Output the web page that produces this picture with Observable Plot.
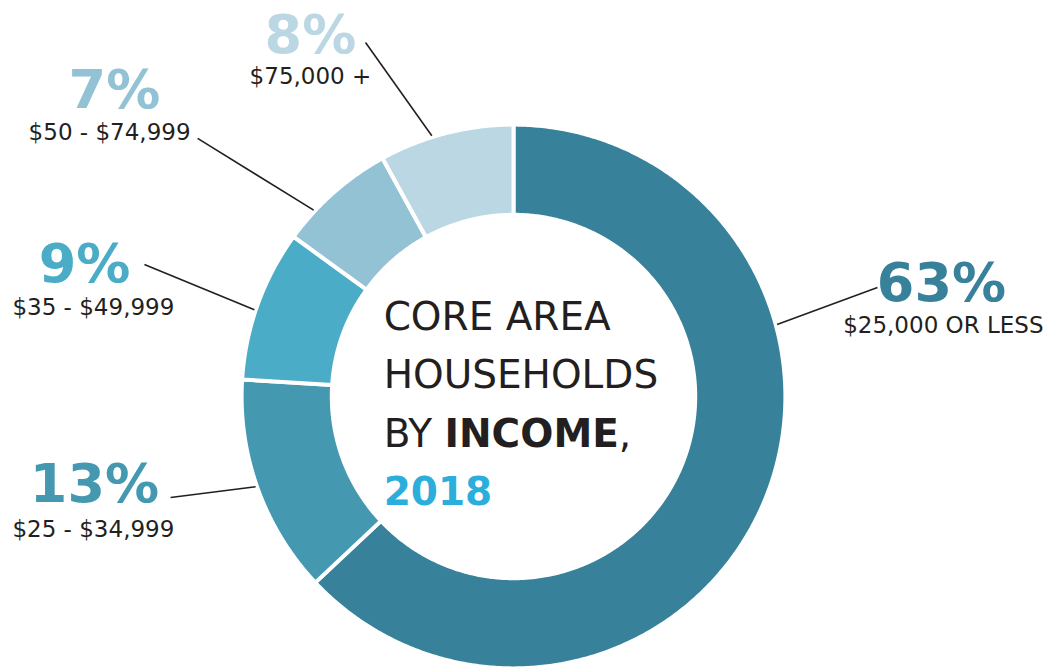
<!DOCTYPE html>
<html>
<head>
<meta charset="utf-8">
<script src="https://cdn.jsdelivr.net/npm/d3@7"></script>
<script src="https://cdn.jsdelivr.net/npm/@observablehq/plot@0.6"></script>
<style>
  html, body { margin: 0; padding: 0; background: #ffffff; }
  svg { display: block; }
</style>
</head>
<body>
<script>
// ---- Data ----
const categories = ["$25,000 OR LESS", "$25 - $34,999", "$35 - $49,999", "$50 - $74,999", "$75,000 +"];
const shares = [63, 13, 9, 7, 8];
const pctLabels = ["63%", "13%", "9%", "7%", "8%"];
const titleLines = ["CORE AREA", "HOUSEHOLDS", "BY INCOME,"];
const titleYear = "2018";

// ---- Styling / layout (not data) ----
const sliceColors = ["#37819A", "#4499B1", "#4AACC6", "#93C2D5", "#BAD7E3"];
const ink = "#231F20";
const yearColor = "#2BAEDB";
const innerR = 0.68, outerR = 1.0;   // ring in units of outer radius
// label layout in chart units (centre of ring = 0,0 ; outer radius = 1)
const leaderAngle = [74.7, 250.7, 288.5, 313, 342.6];
const leaderEnd = [[1.348, 0.404], [-1.270, -0.374], [-1.367, 0.489], [-1.170, 0.956], [-0.548, 1.311]];
const pctPos = [[1.585, 0.352], [-1.552, -0.392], [-1.589, 0.423], [-1.478, 1.067], [-0.752, 1.274]];
const subPos = [[1.592, 0.236], [-1.556, -0.519], [-1.556, 0.303], [-1.496, 0.951], [-0.752, 1.159]];

// ---- Build geometry from the data ----
const total = d3.sum(shares);
let acc = 0;
const slices = categories.map((c, i) => {
  const a0 = acc / total * 360;
  acc += shares[i];
  const a1 = acc / total * 360;
  return {c, a0, a1};
});
const rad = a => a * Math.PI / 180;
const polar = (a, r) => [r * Math.sin(rad(a)), r * Math.cos(rad(a))];
const arcPts = [];
slices.forEach(s => {
  const n = Math.max(8, Math.ceil((s.a1 - s.a0) / 0.5));
  for (let k = 0; k <= n; k++) {
    const a = s.a0 + (s.a1 - s.a0) * k / n;
    const [x, y] = polar(a, outerR + 0.007);
    arcPts.push({c: s.c, x, y});
  }
  for (let k = n; k >= 0; k--) {
    const a = s.a0 + (s.a1 - s.a0) * k / n;
    const [x, y] = polar(a, innerR - 0.007);
    arcPts.push({c: s.c, x, y});
  }
});

const leaders = categories.map((c, i) => {
  const [x1, y1] = polar(leaderAngle[i], 1.012);
  return {c, x1, y1, x2: leaderEnd[i][0], y2: leaderEnd[i][1]};
});
const pctData = categories.map((c, i) => ({c, t: pctLabels[i], x: pctPos[i][0], y: pctPos[i][1]}));
const subData = categories.map((c, i) => ({c, t: c, x: subPos[i][0], y: subPos[i][1]}));
const lineStep = 0.2167;
const titleData = titleLines.map((t, i) => ({t, x: -0.481, y: 0.248 - i * lineStep}));
const yearData = [{t: titleYear, x: -0.481, y: 0.248 - 3 * lineStep}];

const font = "DejaVu Sans, Verdana, sans-serif";

const chart = Plot.plot({
  width: 1051,
  height: 667,
  margin: 0,
  style: {background: "#ffffff", fontFamily: font},
  x: {domain: [-513 / 270, 538 / 270], axis: null},
  y: {domain: [-271 / 270, 396 / 270], axis: null},
  color: {domain: categories, range: sliceColors},
  marks: [
    Plot.line(arcPts, {x: "x", y: "y", z: "c", fill: "c", stroke: "#ffffff", strokeWidth: 4, curve: "linear-closed"}),
    Plot.link(leaders, {x1: "x1", y1: "y1", x2: "x2", y2: "y2", stroke: ink, strokeWidth: 1.6}),
    Plot.text(pctData, {x: "x", y: "y", text: "t", fill: "c", fontSize: 54, fontWeight: "bold", textAnchor: "middle", lineAnchor: "bottom", fontFamily: font}),
    Plot.text(subData, {x: "x", y: "y", text: "t", fill: ink, fontSize: 23, textAnchor: "middle", lineAnchor: "bottom", fontFamily: font}),
    Plot.text(titleData, {x: "x", y: "y", text: "t", fill: ink, fontSize: 39, textAnchor: "start", lineAnchor: "bottom", fontFamily: font}),
    Plot.text(yearData, {x: "x", y: "y", text: "t", fill: yearColor, fontSize: 39, fontWeight: "bold", textAnchor: "start", lineAnchor: "bottom", fontFamily: font})
  ]
});

// mixed weight in "BY INCOME,"
chart.querySelectorAll("text").forEach(el => {
  if (el.textContent === "BY INCOME,") {
    const target = el.querySelector("tspan") || el;
    target.textContent = "";
    const ns = "http://www.w3.org/2000/svg";
    target.appendChild(document.createTextNode("BY "));
    const b = document.createElementNS(ns, "tspan");
    b.setAttribute("font-weight", "bold");
    b.textContent = "INCOME";
    target.appendChild(b);
    target.appendChild(document.createTextNode(","));
  }
});

document.body.appendChild(chart);
</script>
</body>
</html>
